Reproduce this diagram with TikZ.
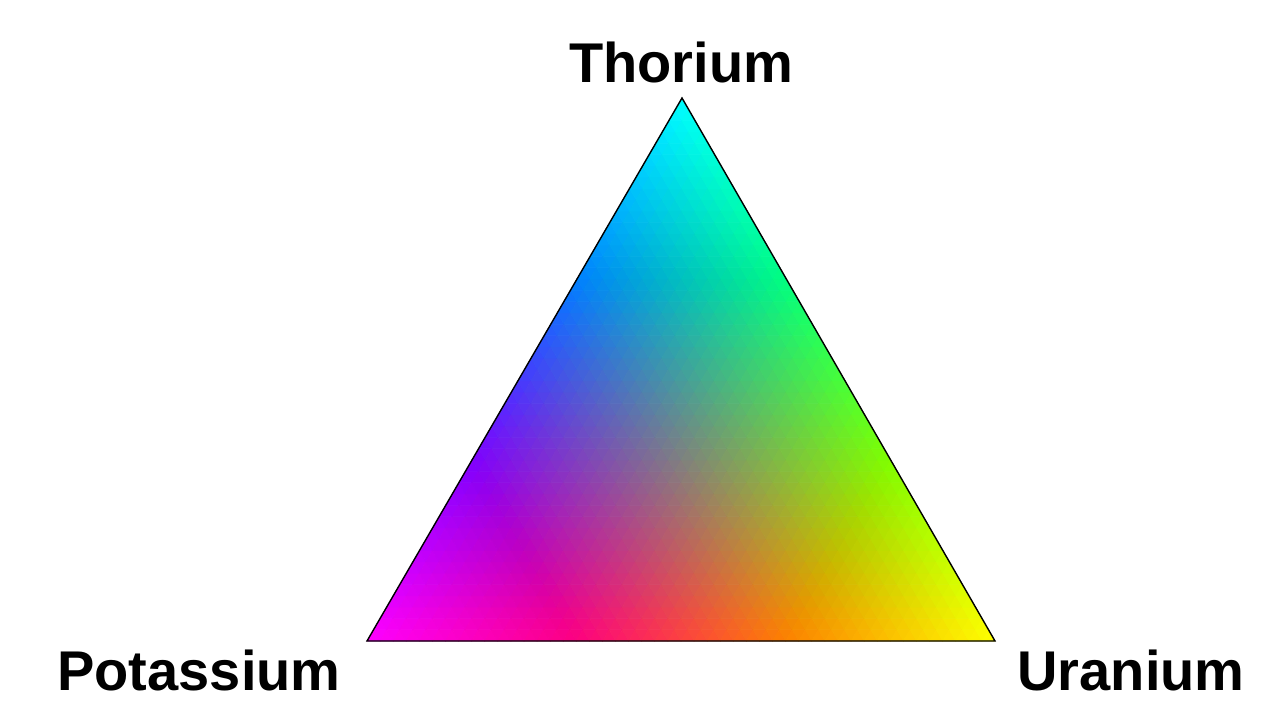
\documentclass[tikz,border=0pt]{standalone}
\usepackage{fontspec}
\setmainfont{Liberation Sans}
\begin{document}
\begin{tikzpicture}[x=1pt,y=-1pt,
  lbl/.style={font=\fontsize{56}{60}\selectfont\bfseries, text=black, inner sep=0pt, anchor=base},
  edge/.style={draw=black, line width=1.4pt, line join=miter}]
\useasboundingbox[fill=white] (0,0) rectangle (1276,704);
\def\N{48}
\pgfmathsetmacro\ux{628/\N}
\pgfmathsetmacro\vx{315/\N}
\pgfmathsetmacro\vy{543/\N}
\foreach \i in {0,...,47} {
  \pgfmathtruncatemacro\jmax{47-\i}
  \foreach \j in {0,...,\jmax} {
    % upward cell
    \pgfmathsetmacro\cc{(\i+1/3)/\N}
    \pgfmathsetmacro\aa{(\j+1/3)/\N}
    \pgfmathsetmacro\bb{1-\aa-\cc}
    \pgfmathsetmacro\R{max(0,1-1.5*\aa)}
    \pgfmathsetmacro\G{max(0,1-1.5*\bb)}
    \pgfmathsetmacro\B{max(0,1-1.5*\cc)}
    \definecolor{cellc}{rgb}{\R,\G,\B}
    \pgfmathsetmacro\xa{367+\ux*\i+\vx*\j}
    \pgfmathsetmacro\ya{641-\vy*\j}
    \pgfmathsetmacro\xb{\xa+\ux}
    \pgfmathsetmacro\xc{\xa+\vx}
    \pgfmathsetmacro\yc{\ya-\vy}
    \filldraw[fill=cellc,draw=cellc,line width=0.6pt,line join=round] (\xa,\ya) -- (\xb,\ya) -- (\xc,\yc) -- cycle;
    \pgfmathtruncatemacro\s{\i+\j}
    \ifnum\s<47
      \pgfmathsetmacro\cc{(\i+2/3)/\N}
      \pgfmathsetmacro\aa{(\j+2/3)/\N}
      \pgfmathsetmacro\bb{1-\aa-\cc}
      \pgfmathsetmacro\R{max(0,1-1.5*\aa)}
      \pgfmathsetmacro\G{max(0,1-1.5*\bb)}
      \pgfmathsetmacro\B{max(0,1-1.5*\cc)}
      \definecolor{cellc}{rgb}{\R,\G,\B}
      \pgfmathsetmacro\xd{\xb+\vx}
      \filldraw[fill=cellc,draw=cellc,line width=0.6pt,line join=round] (\xb,\ya) -- (\xd,\yc) -- (\xc,\yc) -- cycle;
    \fi
  }
}
\coordinate (th) at (682,98);
\coordinate (k) at (367,641);
\coordinate (u) at (995,641);
\draw[edge] (th) -- (k) -- (u) -- cycle;
\node[lbl] (thl) at (681,82) {Thorium};
\node[lbl] (kl) at (199,690) {Potassium};
\node[lbl] (ul) at (1131,690) {Uranium};
\end{tikzpicture}
\end{document}
